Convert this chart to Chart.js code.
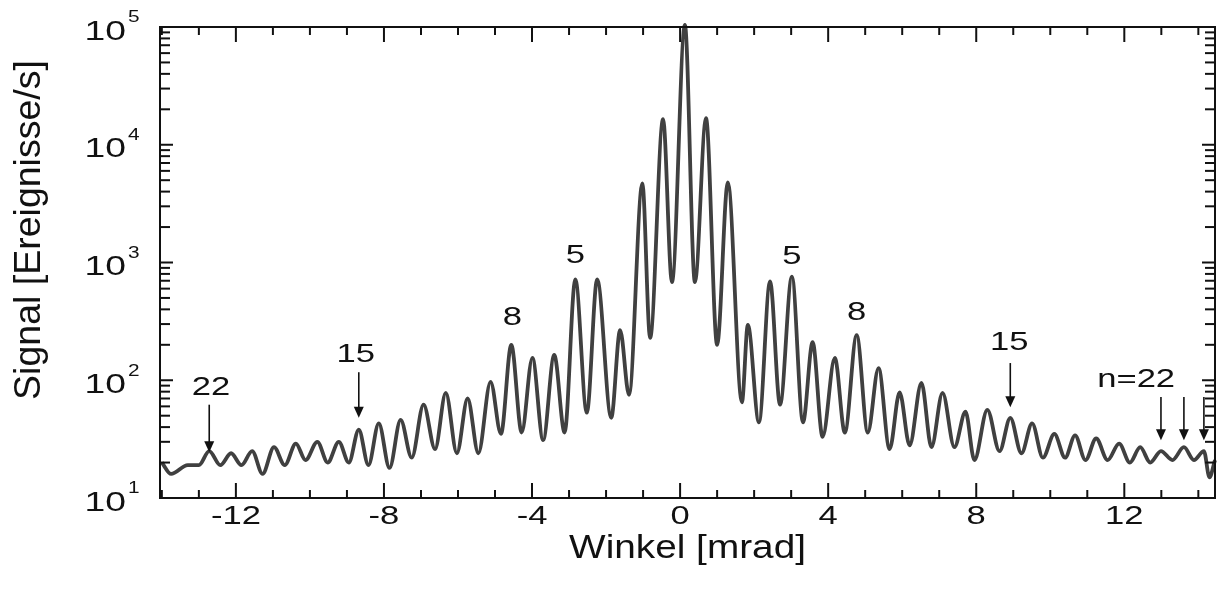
<!DOCTYPE html>
<html lang="de">
<head>
<meta charset="UTF-8">
<title>Signal gegen Winkel</title>
<style>
  html, body { margin: 0; padding: 0; background: #fff; }
  #chart { display: block; }
</style>
</head>
<body>
<canvas id="chart" width="1223" height="594"></canvas>
<script src="https://cdn.jsdelivr.net/npm/chart.js"></script>
<script>
// Maxima der Beugungsordnungen (Winkel in mrad, Signal in Ereignisse/s)
const peakWinkel = [-12.72, -12.13, -11.56, -10.97, -10.38, -9.80, -9.22, -8.68, -8.14, -7.55, -6.93,
  -6.33, -5.74, -5.12, -4.56, -3.99, -3.40, -2.83, -2.24, -1.62, -1.02, -0.46, 0.13, 0.70, 1.29,
  1.83, 2.43, 3.02, 3.58, 4.18, 4.77, 5.36, 5.93, 6.52, 7.09, 7.71, 8.30, 8.92, 9.51, 10.11, 10.67,
  11.24, 11.86, 12.43, 12.99, 13.61, 14.15];
const peakSignal = [25, 24, 25, 27, 29, 30, 30, 38, 43, 46, 62, 78, 70, 97, 200, 155, 164, 720, 720,
  267, 4700, 16500, 104000, 16800, 4800, 295, 690, 760, 211, 155, 242, 127, 79, 95, 78, 54, 56, 48,
  43, 35, 34, 32, 29, 27, 25, 27, 25];

// Minima zwischen den Ordnungen und Randpunkte
const minWinkel = [-14.0, -13.75, -13.3, -13.0, -12.42, -11.85, -11.28, -10.68, -10.12, -9.52, -8.95,
  -8.42, -7.85, -7.25, -6.62, -6.03, -5.45, -4.84, -4.28, -3.70, -3.12, -2.52, -1.86, -1.38, -0.81,
  -0.22, 0.40, 1.00, 1.67, 2.13, 2.70, 3.32, 3.85, 4.45, 5.07, 5.66, 6.20, 6.79, 7.41, 7.95, 8.63,
  9.22, 9.80, 10.40, 10.95, 11.55, 12.15, 12.70, 13.30, 13.88, 14.30, 14.45];
const minSignal = [20, 16, 19, 19, 19, 19, 16, 19, 21, 20, 20, 19, 18, 22, 26, 24, 24, 35, 36, 31, 36,
  53, 48, 75, 229, 680, 680, 200, 65, 44, 62, 44, 33, 36, 36, 26, 28, 27, 27, 21, 25, 24, 22, 22, 21,
  21, 20, 20, 21, 21, 15, 21];

const xTicks = [-12, -8, -4, 0, 4, 8, 12];
const yTicks = [10, 100, 1000, 10000, 100000];

// Beschriftungen der Ordnungen
const labelTexte = ['22', '15', '8', '5', '5', '8', '15', 'n=22'];
const labelWinkel = [-12.67, -8.76, -4.53, -2.83, 3.02, 4.77, 8.89, 12.32];
const labelSignal = [86, 164, 338, 1135, 1115, 372, 207, 100];

// Pfeile: Winkel, Start- und Endwert
const pfeilWinkel = [-12.72, -8.68, 8.92, 12.99, 13.61, 14.15];
const pfeilVon = [62, 117, 140, 72, 72, 72];
const pfeilBis = [24.5, 48, 59, 31, 31, 31];

const punkte = peakWinkel.map((x, i) => ({ x: x, y: peakSignal[i] }))
  .concat(minWinkel.map((x, i) => ({ x: x, y: minSignal[i] })))
  .sort((a, b) => a.x - b.x);

const FONT = '"Liberation Sans", Arial, sans-serif';

function schreibe(ctx, s, x, y, size, align, sx, sy, rot) {
  ctx.save();
  ctx.translate(x, y);
  if (rot) ctx.rotate(rot);
  ctx.scale(sx, sy);
  ctx.font = size + 'px ' + FONT;
  ctx.textAlign = align;
  ctx.textBaseline = 'middle';
  ctx.fillText(s, 0, 0);
  ctx.restore();
}

function strich(ctx, x1, y1, x2, y2) {
  ctx.beginPath();
  ctx.moveTo(x1, y1);
  ctx.lineTo(x2, y2);
  ctx.stroke();
}

const rahmen = {
  id: 'rahmen',
  afterDraw(chart) {
    const ctx = chart.ctx, a = chart.chartArea;
    const sx = chart.scales.x, sy = chart.scales.y;
    ctx.save();
    ctx.strokeStyle = '#111';
    ctx.fillStyle = '#111';
    ctx.lineWidth = 2;
    ctx.strokeRect(a.left, a.top, a.right - a.left, a.bottom - a.top);

    // x-Striche nach innen
    for (let v = Math.ceil(sx.min); v <= sx.max; v++) {
      const px = sx.getPixelForValue(v);
      const len = xTicks.includes(v) ? 15 : 8;
      strich(ctx, px, a.bottom, px, a.bottom - len);
      strich(ctx, px, a.top, px, a.top + len);
    }
    // y-Striche (log) nach innen
    yTicks.forEach(d => {
      for (let m = 1; m <= 9; m++) {
        const v = d * m;
        if (v > sy.max * 1.001) break;
        const py = sy.getPixelForValue(v);
        const len = m === 1 ? 13 : 10;
        strich(ctx, a.left, py, a.left + len, py);
        strich(ctx, a.right, py, a.right - len, py);
      }
    });

    // Achsenbeschriftung
    xTicks.forEach(v => {
      schreibe(ctx, String(v), sx.getPixelForValue(v), a.bottom + 19, 26, 'center', 1.33, 1);
    });
    yTicks.forEach(v => {
      const py = sy.getPixelForValue(v) + 5;
      schreibe(ctx, '10', 126, py, 28, 'right', 1.33, 1);
      schreibe(ctx, String(Math.round(Math.log10(v))), 128, py - 14, 16, 'left', 1.3, 1);
    });
    schreibe(ctx, 'Winkel [mrad]', (a.left + a.right) / 2, 549, 34, 'center', 1.14, 1);
    schreibe(ctx, 'Signal [Ereignisse/s]', 30, 230, 31, 'center', 1.21, 1.2, -Math.PI / 2);

    // Ordnungen
    labelTexte.forEach((t, i) => {
      schreibe(ctx, t, sx.getPixelForValue(labelWinkel[i]), sy.getPixelForValue(labelSignal[i]),
        26, 'center', 1.33, 1);
    });

    // Pfeile
    ctx.lineWidth = 1.6;
    pfeilWinkel.forEach((w, i) => {
      const px = sx.getPixelForValue(w);
      const y1 = sy.getPixelForValue(pfeilVon[i]);
      const y2 = sy.getPixelForValue(pfeilBis[i]);
      strich(ctx, px, y1, px, y2 - 8);
      ctx.beginPath();
      ctx.moveTo(px - 5, y2 - 11);
      ctx.lineTo(px + 5, y2 - 11);
      ctx.lineTo(px, y2);
      ctx.closePath();
      ctx.fill();
    });
    ctx.restore();
  }
};

new Chart(document.getElementById('chart'), {
  type: 'line',
  data: {
    datasets: [{
      data: punkte,
      borderColor: '#404040',
      borderWidth: 3.8,
      pointRadius: 0,
      cubicInterpolationMode: 'monotone',
      clip: false
    }]
  },
  options: {
    responsive: false,
    animation: false,
    devicePixelRatio: 1,
    events: [],
    layout: { padding: { left: 160, right: 8, top: 27, bottom: 96 } },
    plugins: { legend: { display: false }, tooltip: { enabled: false } },
    scales: {
      x: { type: 'linear', min: -14.05, max: 14.45, display: false },
      y: { type: 'logarithmic', min: 10, max: 100000, display: false }
    }
  },
  plugins: [rahmen]
});
</script>
</body>
</html>
